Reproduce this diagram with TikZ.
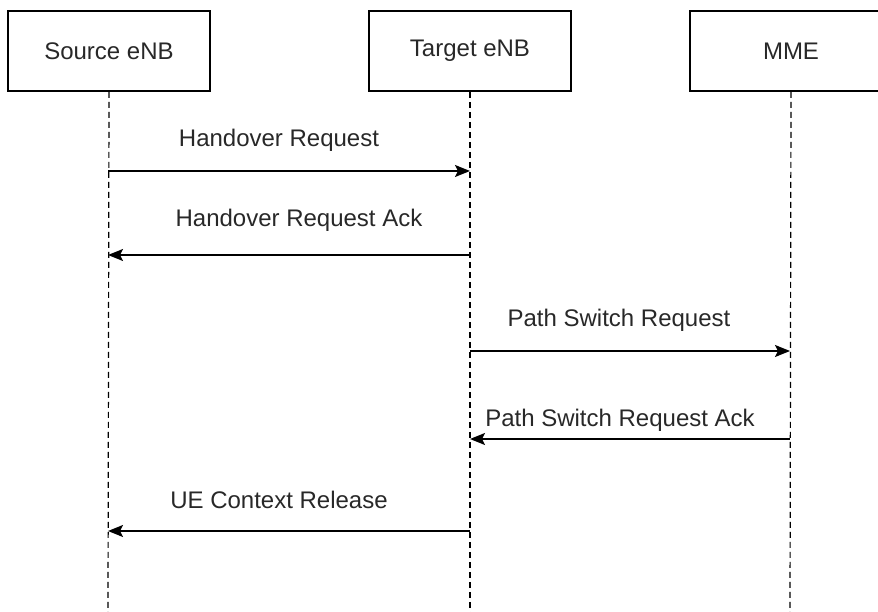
\documentclass[tikz,border=0pt]{standalone}
\usepackage{fontspec}
\setmainfont{Liberation Sans}
\usetikzlibrary{positioning,arrows.meta}
\definecolor{labelgrey}{RGB}{40,40,40}
\tikzset{
    entity/.style={
        draw,
        line width=1.6pt,
        minimum width=202pt,
        minimum height=80pt,
        inner sep=0pt,
        text=labelgrey,
        font=\fontsize{24}{28}\selectfont
    },
    lifeline/.style={
        line width=1.2pt,
        dash pattern=on 6pt off 4pt
    },
    msg/.style={
        -{Stealth[length=15pt,width=12pt,inset=3pt]},
        line width=1.6pt
    },
    msglabel/.style={
        text=labelgrey,
        inner sep=0pt,
        font=\fontsize{24}{28}\selectfont
    }
}

\begin{document}
\begin{tikzpicture}[x=1pt,y=-1pt]

\clip (0,0) rectangle (878,612);

% Entities
\node[entity] (src) at (109,51) {Source eNB};
\node[entity] (tgt) at (470,51) {Target eNB};
\node[entity] (mme) at (791,51) {MME};

% Lifeline ends
\coordinate (srcEnd) at (108,612);
\coordinate (tgtEnd) at (470,612);
\coordinate (mmeEnd) at (790,612);

% Lifelines
\draw[lifeline] (src.south) -- (srcEnd);
\draw[lifeline] (tgt.south) -- (tgtEnd);
\draw[lifeline] (mme.south) -- (mmeEnd);

% Message end points
\coordinate (hoS) at (108,171);
\coordinate (hoT) at (470,171);
\coordinate (ackT) at (470,255);
\coordinate (ackS) at (108,255);
\coordinate (psT) at (470,351);
\coordinate (psM) at (790,351);
\coordinate (psaM) at (790,439);
\coordinate (psaT) at (470,439);
\coordinate (relT) at (470,531);
\coordinate (relS) at (108,531);

% Messages
\draw[msg] (hoS) -- (hoT);
\draw[msg] (ackT) -- (ackS);
\draw[msg] (psT) -- (psM);
\draw[msg] (psaM) -- (psaT);
\draw[msg] (relT) -- (relS);

% Labels
\node[msglabel] (hoLabel) at (279,140) {Handover Request};
\node[msglabel] (ackLabel) at (299,220) {Handover Request Ack};
\node[msglabel] (psLabel) at (619,320) {Path Switch Request};
\node[msglabel] (psaLabel) at (620,420) {Path Switch Request Ack};
\node[msglabel] (relLabel) at (279,500) {UE Context Release};

\end{tikzpicture}
\end{document}
